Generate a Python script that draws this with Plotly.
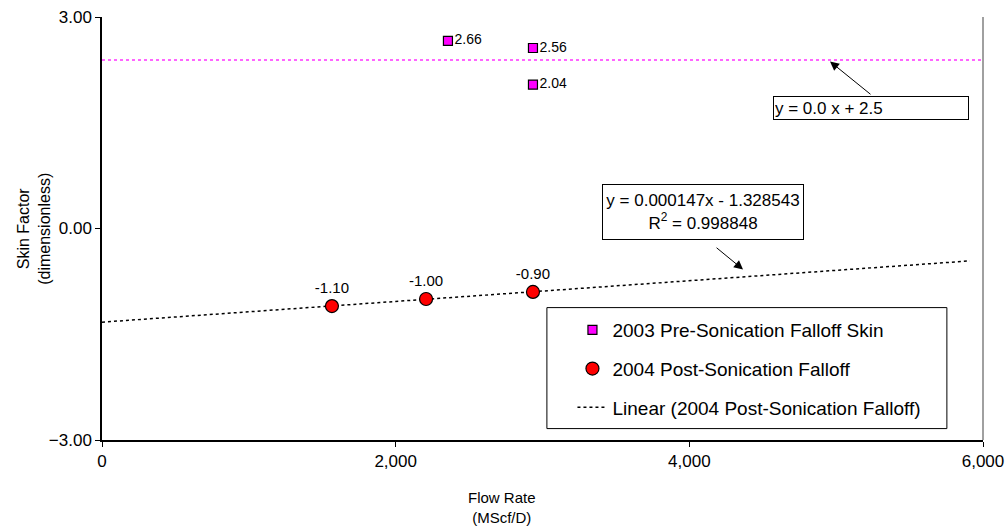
import plotly.graph_objects as go

# Data
pre_x = [2356, 2935, 2935]
pre_y = [2.66, 2.56, 2.04]
post_x = [1566, 2207, 2935]
post_y = [-1.10, -1.00, -0.90]
pre_level_x = [0, 6000]
pre_level_y = [2.39, 2.39]
trend_slope = 0.000147
trend_intercept = -1.328543
trend_x = [0, 5911]
x_ticks = [0, 2000, 4000, 6000]
y_ticks = [-3, 0, 3]

FONT = "Liberation Sans, Arial, sans-serif"

fig = go.Figure()

fig.add_trace(go.Scatter(
    x=pre_level_x, y=pre_level_y, mode="lines",
    line=dict(color="#FF33FF", width=1.5, dash="dot"),
    showlegend=False, hoverinfo="skip"))

fig.add_trace(go.Scatter(
    x=trend_x, y=[trend_slope * v + trend_intercept for v in trend_x],
    mode="lines", name="Linear (2004 Post-Sonication Falloff)",
    line=dict(color="black", width=1.5, dash="dot"),
    legendgroup="c", legendrank=3))

fig.add_trace(go.Scatter(
    x=pre_x, y=pre_y, mode="markers+text",
    name="2003 Pre-Sonication Falloff Skin",
    marker=dict(symbol="square", size=9, color="#FF00FF",
                line=dict(color="black", width=1.2)),
    text=[f"{v:.2f}" for v in pre_y], textposition="middle right",
    textfont=dict(family=FONT, size=14, color="black"),
    legendgroup="a", legendrank=1))

fig.add_trace(go.Scatter(
    x=post_x, y=post_y, mode="markers+text",
    name="2004 Post-Sonication Falloff",
    marker=dict(symbol="circle", size=13, color="#FF0000",
                line=dict(color="black", width=1.2)),
    text=[f"{v:.2f}" for v in post_y], textposition="top center",
    textfont=dict(family=FONT, size=15, color="black"),
    legendgroup="b", legendrank=2))

fig.update_layout(
    width=1008, height=527,
    margin=dict(l=102, r=25, t=17, b=87, autoexpand=False),
    paper_bgcolor="white", plot_bgcolor="white",
    font=dict(family=FONT, size=17, color="black"),
    showlegend=True,
    legend=dict(x=0.534, y=0.305, xanchor="left", yanchor="top",
                bgcolor="rgba(0,0,0,0)", borderwidth=0,
                font=dict(family=FONT, size=19, color="black"),
                tracegroupgap=11, traceorder="grouped"),
    xaxis=dict(range=[0, 6000], tickvals=x_ticks, tickformat=",",
               showgrid=False, zeroline=False, showline=True,
               linecolor="black", linewidth=1.5, ticks="outside",
               ticklen=5, tickcolor="black", automargin=False,
               tickfont=dict(family=FONT, size=17)),
    yaxis=dict(range=[-3, 3], tickvals=y_ticks, tickformat=".2f",
               showgrid=False, zeroline=False, showline=True,
               linecolor="black", linewidth=1.5, ticks="outside",
               ticklen=5, tickcolor="black", automargin=False,
               tickfont=dict(family=FONT, size=17)),
    shapes=[
        dict(type="line", xref="paper", yref="paper", x0=1, x1=1, y0=0, y1=1,
             line=dict(color="#808080", width=1.5)),
        dict(type="rect", xref="paper", yref="paper",
             x0=0.505, x1=0.959, y0=0.027, y1=0.313,
             line=dict(color="black", width=1), fillcolor="rgba(0,0,0,0)"),
    ],
)

annotations = [
    # axis titles
    dict(text="Flow Rate<br>(MScf/D)", xref="paper", yref="paper",
         x=(502 - 102) / 881, y=-0.11, xanchor="center", yanchor="top",
         showarrow=False, font=dict(family=FONT, size=15)),
    dict(text="Skin Factor<br>(dimensionless)", xref="paper", yref="paper",
         x=-0.078, y=0.5, xanchor="center", yanchor="middle", textangle=-90,
         showarrow=False, font=dict(family=FONT, size=16)),
    # equation boxes
    dict(text="y = 0.0 x + 2.5", xref="paper", yref="paper",
         x=(871 - 102) / 881, y=(440.5 - 108.5) / 423, xanchor="center",
         yanchor="middle", width=192, height=20, align="left",
         showarrow=False, bordercolor="black", borderwidth=1, borderpad=1,
         bgcolor="white", font=dict(family=FONT, size=17)),
    dict(text="y = 0.000147x - 1.328543<br>R<sup>2</sup> = 0.998848",
         xref="paper", yref="paper",
         x=(703 - 102) / 881, y=(440.5 - 212.5) / 423, xanchor="center",
         yanchor="middle", width=194, height=48, align="center",
         showarrow=False, bordercolor="black", borderwidth=1, borderpad=3,
         bgcolor="white", font=dict(family=FONT, size=17)),
    # arrows
    dict(text="", x=4958, y=2.369, xref="x", yref="y", showarrow=True,
         ax=42, ay=34, arrowhead=2, arrowsize=1.8, arrowwidth=1,
         arrowcolor="black"),
    dict(text="", x=4366, y=-0.582, xref="x", yref="y", showarrow=True,
         ax=-28, ay=-23, arrowhead=2, arrowsize=1.8, arrowwidth=1,
         arrowcolor="black"),
]
fig.update_layout(annotations=annotations)

fig.write_html(
    "out.html",
    config={"displayModeBar": False},
    post_script="document.body.style.margin='0';"
                "document.body.style.overflow='hidden';",
)
